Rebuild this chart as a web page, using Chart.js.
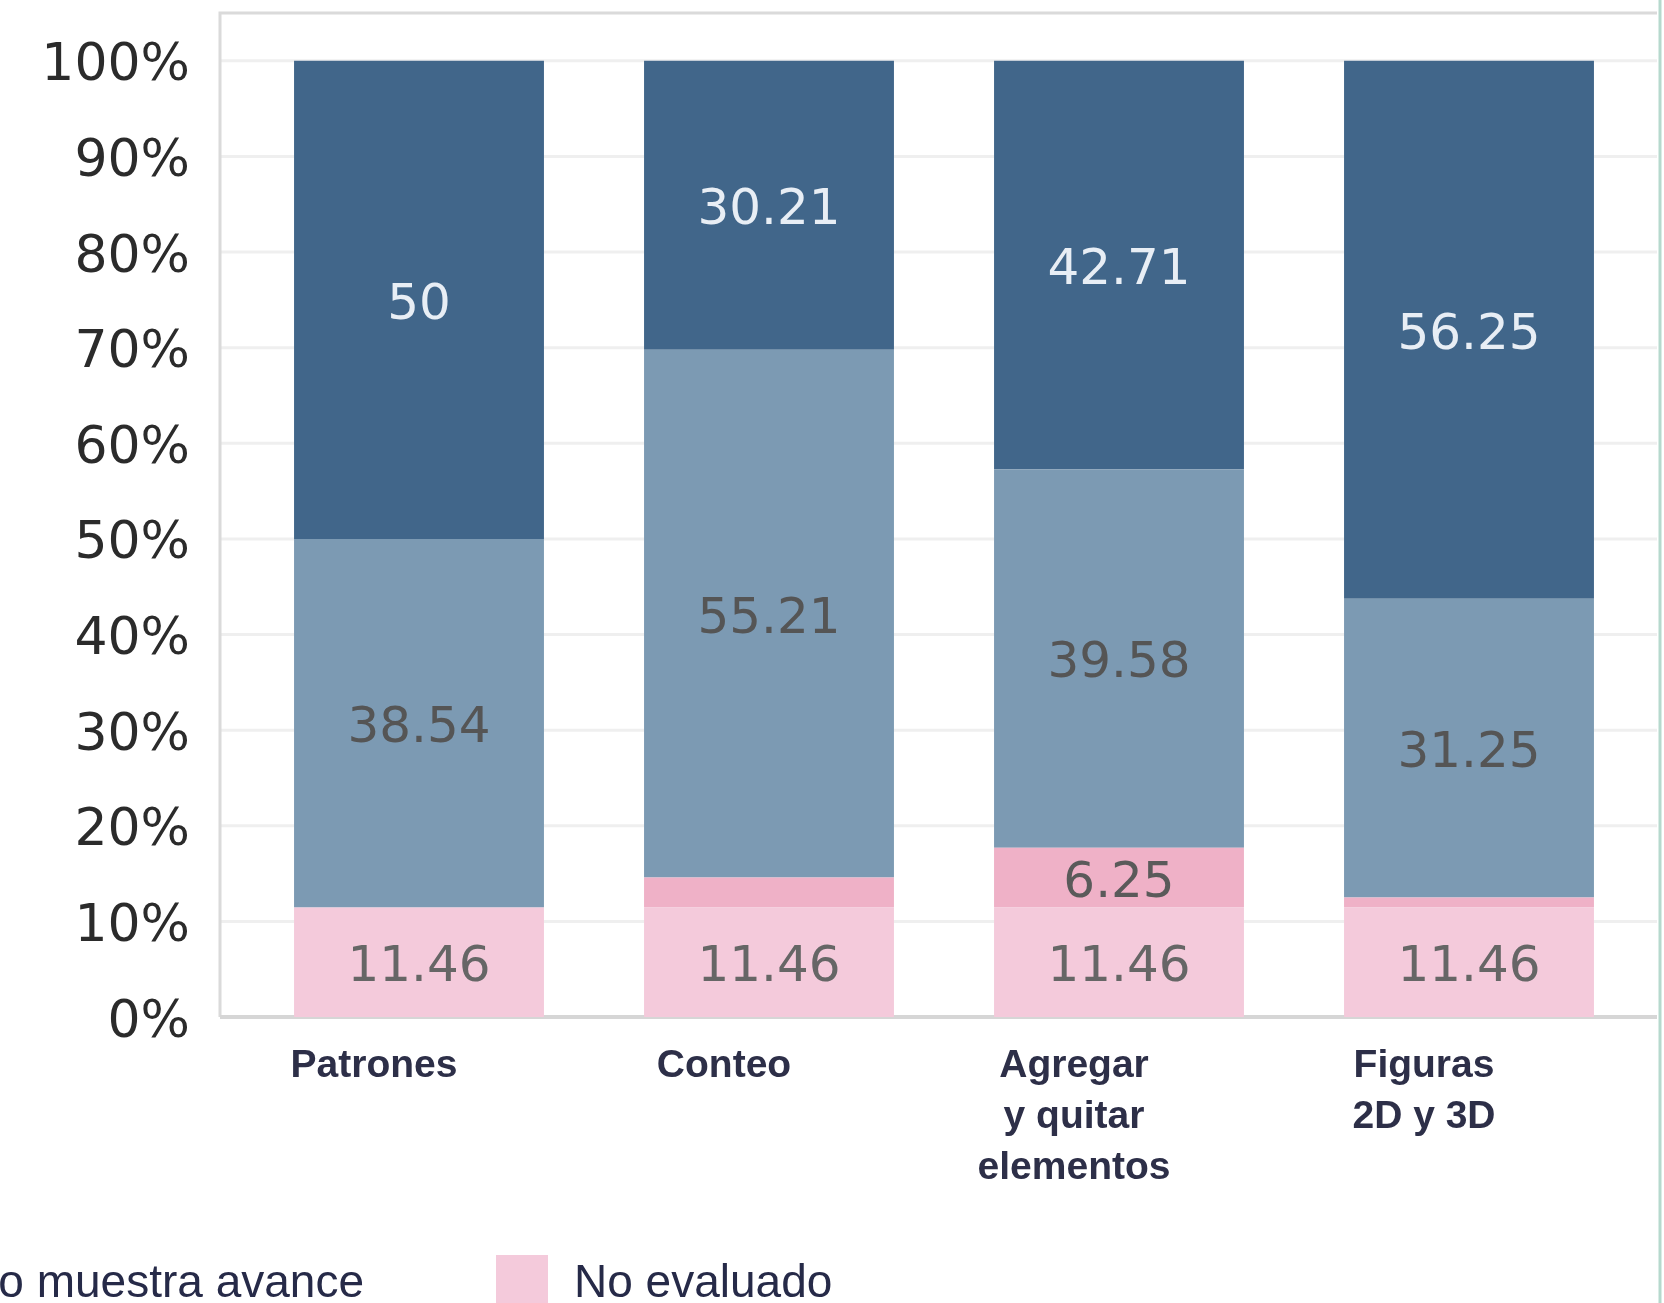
<!DOCTYPE html>
<html>
<head>
<meta charset="utf-8">
<script src="https://cdn.jsdelivr.net/npm/chart.js@4.4.1/dist/chart.umd.min.js"></script>
<style>
  body { margin: 0; background: #fff; overflow: hidden; }
  #wrap { position: relative; width: 1664px; height: 1303px; filter: blur(0.7px); }
  .leg-text { position: absolute; font: 46px "Liberation Sans", Arial, sans-serif; line-height: 46px; color: #262a48; white-space: nowrap; }
  .leg-box { position: absolute; width: 52px; height: 52px; }
</style>
</head>
<body>
<div id="wrap">
  <canvas id="myChart" width="1664" height="1303"></canvas>
  <div id="legend"></div>
</div>
<script>

// categories and series (stacked bottom to top), values in percent
const categories = [['Patrones'], ['Conteo'], ['Agregar', 'y quitar', 'elementos'], ['Figuras', '2D y 3D']];
const noEvaluado = [11.46, 11.46, 11.46, 11.46];
const noMuestraAvance = [0, 3.12, 6.25, 1.04];
const enProceso = [38.54, 55.21, 39.58, 31.25];
const logrado = [50, 30.21, 42.71, 56.25];
const yTicks = [0, 10, 20, 30, 40, 50, 60, 70, 80, 90, 100];

const seriesColors = ['#f4cadb', '#efb1c7', '#7c9ab3', '#41668a'];
const labelColors = ['#666666', '#5a5a5a', '#555555', '#e8eef5'];

// draws the light grid + plot frame (frame sits a bit left of the first category)
const framePlugin = {
    id: 'frame',
    beforeDatasetsDraw(chart) {
        const ctx = chart.ctx;
        const area = chart.chartArea;
        const y = chart.scales.y;
        const left = area.left - 24;
        const right = chart.width - 7;
        ctx.save();
        ctx.strokeStyle = '#efefef';
        ctx.lineWidth = 3;
        yTicks.forEach(v => {
            if (v === 0) return;
            const py = y.getPixelForValue(v);
            ctx.beginPath();
            ctx.moveTo(left, py);
            ctx.lineTo(right, py);
            ctx.stroke();
        });
        ctx.strokeStyle = '#dadada';
        ctx.lineWidth = 3;
        ctx.beginPath();
        ctx.moveTo(right, area.top);
        ctx.lineTo(left, area.top);
        ctx.lineTo(left, y.getPixelForValue(0));
        ctx.stroke();
        ctx.lineWidth = 4;
        ctx.strokeStyle = '#d6d6d6';
        ctx.beginPath();
        ctx.moveTo(left, y.getPixelForValue(0));
        ctx.lineTo(right, y.getPixelForValue(0));
        ctx.stroke();
        // page edge line on the right
        ctx.strokeStyle = '#b6d9cd';
        ctx.lineWidth = 3;
        ctx.beginPath();
        ctx.moveTo(chart.width - 4, 0);
        ctx.lineTo(chart.width - 4, chart.height);
        ctx.stroke();
        ctx.restore();
    }
};

// value labels in the middle of each segment
const valueLabels = {
    id: 'valueLabels',
    afterDatasetsDraw(chart) {
        const ctx = chart.ctx;
        ctx.save();
        ctx.font = '50px "DejaVu Sans", sans-serif';
        ctx.textAlign = 'center';
        ctx.textBaseline = 'middle';
        chart.data.datasets.forEach((ds, i) => {
            const meta = chart.getDatasetMeta(i);
            meta.data.forEach((bar, j) => {
                const v = ds.data[j];
                if (v < 5) return;
                ctx.fillStyle = labelColors[i];
                ctx.fillText(String(v), bar.x, (bar.y + bar.base) / 2 + 6);
            });
        });
        ctx.restore();
    }
};

const seriesData = [noEvaluado, noMuestraAvance, enProceso, logrado];
const seriesNames = ['No evaluado', 'No muestra avance', 'En proceso', 'Logrado'];

var chart = document.getElementById('myChart').getContext('2d');

var myChart = new Chart(chart, {
    type: 'bar',
    data: {
        labels: categories,
        datasets: seriesData.map((d, i) => ({
            label: seriesNames[i],
            data: d,
            backgroundColor: seriesColors[i],
            borderWidth: 0,
            barPercentage: 0.714,
            categoryPercentage: 1
        }))
    },
    options: {
        responsive: false,
        animation: false,
        layout: { padding: { top: 13, right: 20, left: 0, bottom: 0 } },
        plugins: {
            legend: { display: false },
            tooltip: { enabled: false }
        },
        scales: {
            x: {
                stacked: true,
                grid: { display: false, drawTicks: false },
                border: { display: false },
                ticks: {
                    padding: 24,
                    labelOffset: -45,
                    maxRotation: 0,
                    color: '#2d2f48',
                    font: { family: '"Liberation Sans", Arial, sans-serif', size: 39, weight: 'bold', lineHeight: 1.3 }
                },
                afterFit: s => { s.height = 286; s.paddingLeft = 0; s.paddingRight = 0; }
            },
            y: {
                stacked: true,
                min: 0,
                max: 105,
                grid: { display: false, drawTicks: false },
                border: { display: false },
                afterBuildTicks: s => { s.ticks = yTicks.map(v => ({ value: v })); },
                ticks: {
                    padding: 54,
                    labelOffset: 6,
                    color: '#2b2b2b',
                    font: { family: '"DejaVu Sans", sans-serif', size: 52 },
                    callback: v => v + '%'
                },
                afterFit: s => { s.width = 244; s.paddingTop = 0; s.paddingBottom = 0; }
            }
        } // scales end
    },
    plugins: [framePlugin, valueLabels]
});

// legend: only the bottom row is inside the picture, its first box is cut off on the left
const legend = document.getElementById('legend');
legend.innerHTML =
    '<span class="leg-text" style="right:1300px;top:1258px">' + seriesNames[1] + '</span>' +
    '<div class="leg-box" style="left:496px;top:1255px;background:' + seriesColors[0] + '"></div>' +
    '<span class="leg-text" style="left:574px;top:1258px">' + seriesNames[0] + '</span>';
</script>
</body>
</html>
